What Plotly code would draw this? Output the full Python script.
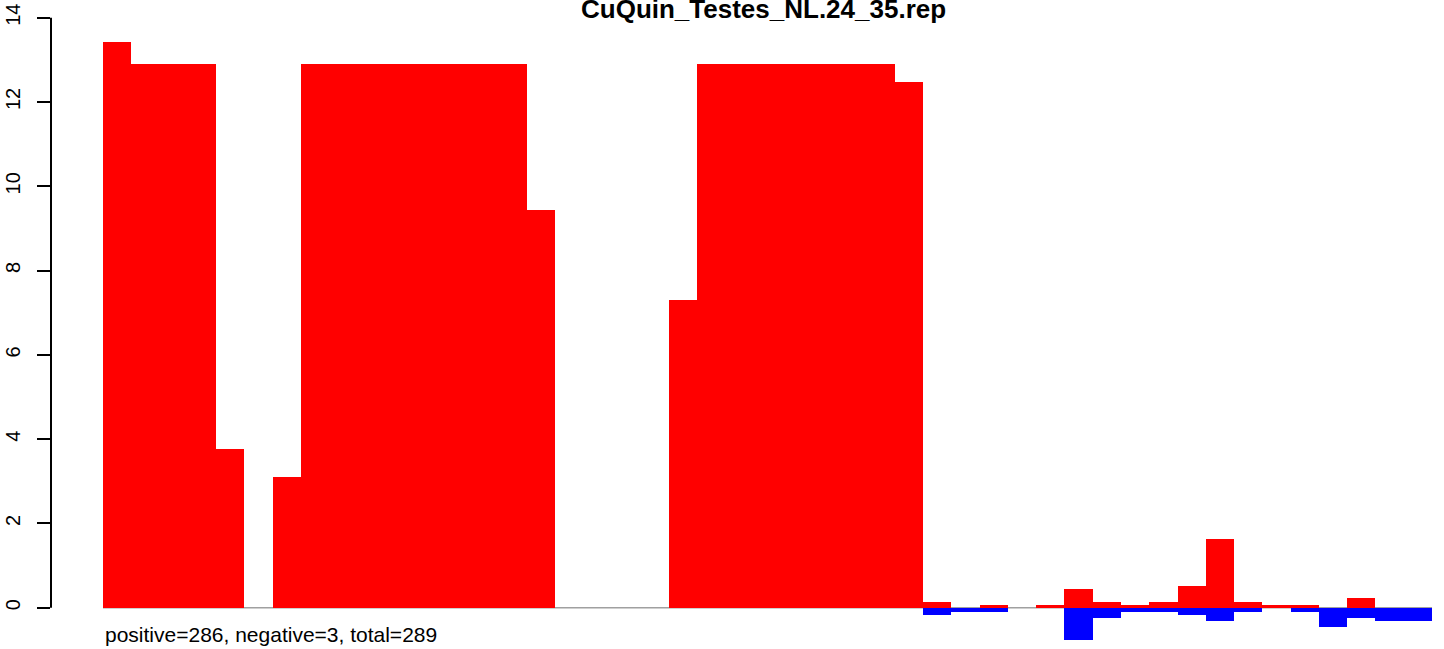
import plotly.graph_objects as go

title = "CuQuin_Testes_NL.24_35.rep"
subtitle = "positive=286, negative=3, total=289"

bins = list(range(47))
positive = [13.43, 12.9, 12.9, 12.9, 3.77, 0, 3.09,
            12.9, 12.9, 12.9, 12.9, 12.9, 12.9, 12.9, 12.9,
            9.44, 0, 0, 0, 0, 7.3,
            12.9, 12.9, 12.9, 12.9, 12.9, 12.9, 12.9,
            12.48,
            0.135, 0, 0.064, 0, 0.064, 0.44, 0.135, 0.064, 0.135, 0.51,
            1.63, 0.135, 0.064, 0.064, 0, 0.23, 0, 0]
negative = [0] * 29 + [-0.17, -0.095, -0.095, 0, 0, -0.77, -0.24, -0.1, -0.1, -0.17,
                       -0.32, -0.095, 0, -0.095, -0.46, -0.24, -0.31, -0.31]
yticks = [0, 2, 4, 6, 8, 10, 12, 14]

xc = [b + 0.5 for b in bins]
n = len(bins)

fig = go.Figure()
fig.add_trace(go.Bar(x=xc, y=positive, width=1, marker=dict(color="#ff0000", line=dict(width=0)),
                     showlegend=False, hoverinfo="skip"))
fig.add_trace(go.Bar(x=xc, y=negative, width=1, marker=dict(color="#0000ff", line=dict(width=0)),
                     showlegend=False, hoverinfo="skip"))

# grey baseline under the bars
fig.add_shape(type="line", xref="x", yref="y", x0=0, x1=n, y0=0, y1=0,
              line=dict(color="#a0a0a0", width=1.5), layer="below")
# y axis line spanning the tick range only
fig.add_shape(type="line", xref="paper", yref="y", x0=0, x1=0, y0=yticks[0], y1=yticks[-1],
              line=dict(color="black", width=2))

px_per_unit = 28.277
fig.update_layout(
    width=1444, height=649,
    margin=dict(l=51, r=0, t=0, b=0),
    paper_bgcolor="white", plot_bgcolor="white",
    barmode="overlay", bargap=0,
    font=dict(family="Liberation Sans, Arial, sans-serif", color="black"),
    xaxis=dict(range=[-52 / px_per_unit, 1341 / px_per_unit], visible=False),
    yaxis=dict(range=[-0.98, 14.42], tickvals=yticks, ticktext=[str(t) for t in yticks],
               ticks="outside", ticklen=13, tickwidth=2, tickcolor="black",
               tickangle=-90, tickfont=dict(size=20), showgrid=False, zeroline=False,
               showline=False, ticklabelstandoff=9),
    annotations=[
        dict(text="<b>" + title + "</b>", xref="paper", yref="paper", x=(763.5 - 51) / 1393,
             y=1, yanchor="top", xanchor="center", yshift=8, showarrow=False,
             font=dict(size=26, family="Liberation Sans, Arial, sans-serif")),
        dict(text=subtitle, xref="x", yref="paper", x=0, y=0, xanchor="left", yanchor="bottom",
             yshift=1, showarrow=False, font=dict(size=21)),
    ],
)

fig.write_html("out.html", config={"displayModeBar": False},
               post_script="document.body.style.margin='0';document.body.style.overflow='hidden';")
